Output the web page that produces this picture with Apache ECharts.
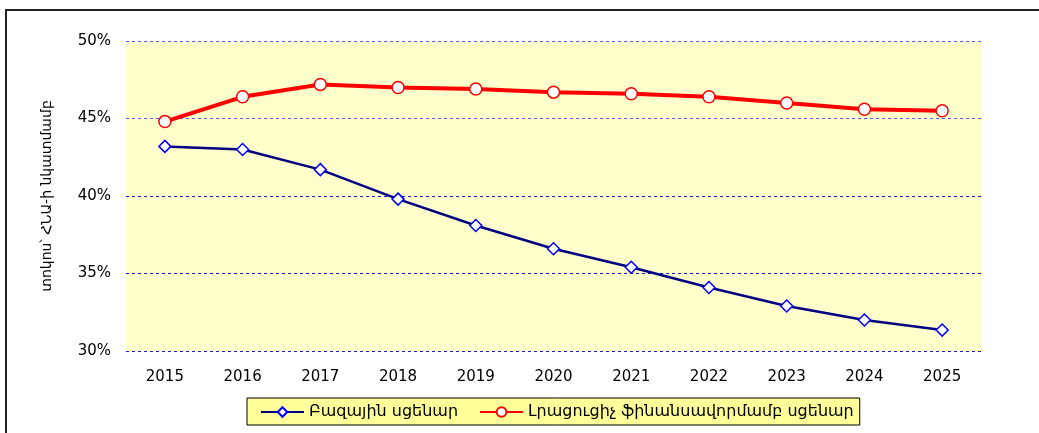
<!DOCTYPE html>
<html lang="hy">
  <head>
    <meta charset="UTF-8" />
    <title>ՀՆԱ</title>
    <style>
      * {
        margin: 0;
        padding: 0;
      }
      body {
        background: #fff;
      }
      #chart {
        width: 1039px;
        height: 433px;
      }
    </style>
    <script src="https://cdn.jsdelivr.net/npm/echarts@6/dist/echarts.min.js"></script>
  </head>
  <body>
    <div id="chart"></div>
    <script>
      // տարիներ
      const years = ["2015", "2016", "2017", "2018", "2019", "2020", "2021", "2022", "2023", "2024", "2025"];
      // Բազային սցենար, % ՀՆԱ-ի նկատմամբ
      const baseline = [43.2, 43.0, 41.7, 39.8, 38.1, 36.6, 35.4, 34.1, 32.9, 32.0, 31.35];
      // Լրացուցիչ ֆինանսավորմամբ սցենար
      const extraFunding = [44.8, 46.4, 47.2, 47.0, 46.9, 46.7, 46.6, 46.4, 46.0, 45.6, 45.5];
      const seriesNames = ["Բազային սցենար", "Լրացուցիչ ֆինանսավորմամբ սցենար"];

      const font = "DejaVu Sans";
      const chart = echarts.init(document.getElementById("chart"));

      chart.setOption({
        animation: false,
        textStyle: { fontFamily: font },
        grid: {
          left: 126,
          right: 58,
          top: 41,
          bottom: 82,
          show: true,
          backgroundColor: "#ffffcc",
          borderWidth: 0,
        },
        graphic: [
          {
            type: "polyline",
            shape: { points: [[6, 433], [6, 10], [1039, 10]] },
            style: { stroke: "#222", lineWidth: 2, fill: null },
            z: 10,
          },
        ],
        legend: {
          left: 247,
          top: 398,
          itemWidth: 43,
          itemHeight: 12,
          itemGap: 21,
          padding: [6, 6, 5, 13],
          backgroundColor: "#ffff99",
          borderColor: "#000",
          borderWidth: 1,
          textStyle: { fontFamily: font, fontSize: 16, color: "#000" },
          data: seriesNames,
        },
        xAxis: {
          type: "category",
          data: years,
          boundaryGap: true,
          axisLine: { show: false },
          axisTick: { show: false },
          axisLabel: { fontSize: 15, color: "#000", margin: 19 },
        },
        yAxis: {
          type: "value",
          min: 30,
          max: 50,
          interval: 5,
          name: "տոկոս՝ ՀՆԱ-ի նկատմամբ",
          nameLocation: "middle",
          nameRotate: 90,
          nameGap: 72,
          nameTextStyle: { fontFamily: font, fontSize: 14, color: "#000" },
          axisLine: { show: false },
          axisTick: { show: false },
          axisLabel: {
            fontSize: 15,
            color: "#000",
            margin: 15,
            formatter: (v) => v + "%",
          },
          splitLine: {
            show: true,
            lineStyle: {
              color: ["#1a1acc", "#1a1acc", "#1a1acc", "#5c5cf0", "#5c5cf0"],
              type: [3, 3],
              width: 1,
            },
          },
        },
        series: [
          {
            name: seriesNames[0],
            type: "line",
            data: baseline,
            symbol: "diamond",
            symbolSize: 12,
            lineStyle: { color: "#000080", width: 2.5 },
            itemStyle: { color: "#ffffff", borderColor: "#0000ff", borderWidth: 1.5 },
            z: 3,
          },
          {
            name: seriesNames[1],
            type: "line",
            data: extraFunding,
            symbol: "circle",
            symbolSize: 12,
            lineStyle: { color: "#ff0000", width: 4 },
            itemStyle: { color: "#ffffff", borderColor: "#ff0000", borderWidth: 1.5 },
            z: 4,
          },
        ],
      });
    </script>
  </body>
</html>
